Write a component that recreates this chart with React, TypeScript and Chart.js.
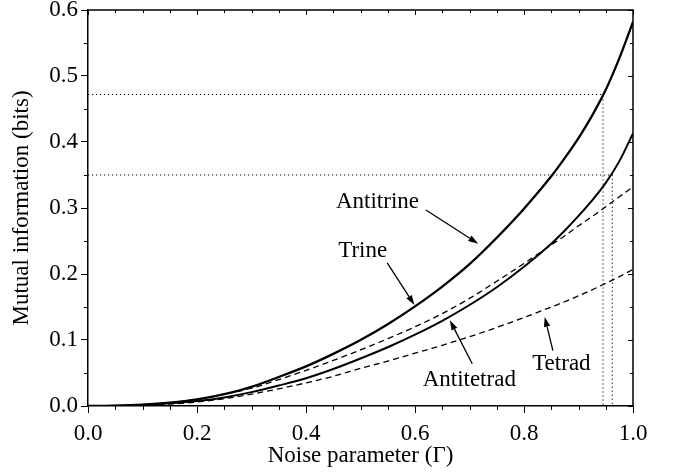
import { useEffect, useRef } from 'react';
import { Chart, registerables } from 'chart.js';

Chart.register(...registerables);

const FONT = "'Liberation Serif', 'Times New Roman', serif";
const FONT_SIZE = 23;

// Noise parameter values (x)
const gammaValues = [0, 0.05, 0.1, 0.15, 0.2, 0.25, 0.3, 0.35, 0.4, 0.45, 0.5, 0.55, 0.6, 0.65, 0.7, 0.75, 0.8, 0.85, 0.875, 0.9, 0.925, 0.95, 0.975, 1.0];
// Mutual information curves (y)
const trineValues = [0, 0.0005, 0.002, 0.005, 0.010, 0.018, 0.029, 0.044, 0.060, 0.079, 0.100, 0.124, 0.151, 0.181, 0.215, 0.255, 0.299, 0.348, 0.376, 0.406, 0.440, 0.479, 0.527, 0.582];
const antitetradValues = [0, 0.0003, 0.0015, 0.004, 0.0075, 0.013, 0.021, 0.031, 0.042, 0.056, 0.072, 0.089, 0.108, 0.129, 0.153, 0.180, 0.211, 0.246, 0.266, 0.288, 0.3115, 0.338, 0.371, 0.413];
const upperDashedValues = [0, 0.0003, 0.0017, 0.005, 0.010, 0.018, 0.027, 0.040, 0.054, 0.069, 0.085, 0.102, 0.120, 0.140, 0.163, 0.189, 0.216, 0.244, 0.258, 0.273, 0.287, 0.302, 0.317, 0.332];
const tetradValues = [0, 0.0002, 0.001, 0.003, 0.006, 0.011, 0.018, 0.026, 0.035, 0.045, 0.057, 0.068, 0.080, 0.092, 0.105, 0.119, 0.134, 0.150, 0.158, 0.167, 0.176, 0.186, 0.196, 0.207];

// Dotted reference lines
const refUpperGamma = [0, 0.945, 0.945];
const refUpperInfo = [0.472, 0.472, 0];
const refLowerGamma = [0, 0.962, 0.962];
const refLowerInfo = [0.35, 0.35, 0];

// Ticks
const xTickValues = [0, 0.2, 0.4, 0.6, 0.8, 1.0];
const yTickValues = [0, 0.1, 0.2, 0.3, 0.4, 0.5, 0.6];
const xMinorTicks = [0.05, 0.1, 0.15, 0.25, 0.3, 0.35, 0.45, 0.5, 0.55, 0.65, 0.7, 0.75, 0.85, 0.9, 0.95];
const yMinorTicks = [0.05, 0.15, 0.25, 0.35, 0.45, 0.55];

// Annotations (data coordinates)
const labelTexts = ['Antitrine', 'Trine', 'Antitetrad', 'Tetrad'];
const labelGamma = [0.455, 0.459, 0.614, 0.815];
const labelInfo = [0.300, 0.226, 0.031, 0.054];
const arrowFromGamma = [0.620, 0.549, 0.705, 0.853];
const arrowFromInfo = [0.297, 0.217, 0.064, 0.084];
const arrowToGamma = [0.716, 0.599, 0.664, 0.838];
const arrowToInfo = [0.246, 0.153, 0.130, 0.135];

const toPoints = (xs: number[], ys: number[]) => xs.map((x, i) => ({ x, y: ys[i] }));

const framePlugin = {
  id: 'frame',
  afterDraw(chart: any) {
    const { ctx, chartArea, scales } = chart;
    const { left, right, top, bottom } = chartArea;
    const x = scales.x;
    const y = scales.y;
    ctx.save();
    ctx.strokeStyle = '#000';
    ctx.lineWidth = 1.5;
    ctx.beginPath();
    ctx.moveTo(left, top);
    ctx.lineTo(right, top);
    ctx.lineTo(right, bottom);
    ctx.stroke();
    ctx.lineWidth = 1;
    ctx.beginPath();
    xMinorTicks.forEach((v) => {
      const px = Math.round(x.getPixelForValue(v)) + 0.5;
      ctx.moveTo(px, bottom);
      ctx.lineTo(px, bottom + 4);
      ctx.moveTo(px, top);
      ctx.lineTo(px, top + 3);
    });
    yMinorTicks.forEach((v) => {
      const py = Math.round(y.getPixelForValue(v)) + 0.5;
      ctx.moveTo(left, py);
      ctx.lineTo(left - 4, py);
      ctx.moveTo(right, py);
      ctx.lineTo(right - 3, py);
    });
    xTickValues.forEach((v) => {
      const px = Math.round(x.getPixelForValue(v)) + 0.5;
      ctx.moveTo(px, top);
      ctx.lineTo(px, top + 5);
    });
    yTickValues.forEach((v) => {
      const py = Math.round(y.getPixelForValue(v)) + 0.5;
      ctx.moveTo(right, py);
      ctx.lineTo(right - 5, py);
    });
    ctx.stroke();

    // arrows
    ctx.lineWidth = 1.3;
    ctx.fillStyle = '#000';
    for (let i = 0; i < arrowFromGamma.length; i++) {
      const x0 = x.getPixelForValue(arrowFromGamma[i]);
      const y0 = y.getPixelForValue(arrowFromInfo[i]);
      const x1 = x.getPixelForValue(arrowToGamma[i]);
      const y1 = y.getPixelForValue(arrowToInfo[i]);
      const ang = Math.atan2(y1 - y0, x1 - x0);
      const len = 10;
      const half = 3.2;
      const bx = x1 - len * Math.cos(ang);
      const by = y1 - len * Math.sin(ang);
      ctx.beginPath();
      ctx.moveTo(x0, y0);
      ctx.lineTo(bx, by);
      ctx.stroke();
      ctx.beginPath();
      ctx.moveTo(x1, y1);
      ctx.lineTo(bx + half * Math.sin(ang), by - half * Math.cos(ang));
      ctx.lineTo(bx - half * Math.sin(ang), by + half * Math.cos(ang));
      ctx.closePath();
      ctx.fill();
    }

    // labels
    ctx.font = `${FONT_SIZE}px ${FONT}`;
    ctx.textAlign = 'left';
    ctx.textBaseline = 'alphabetic';
    labelTexts.forEach((t, i) => {
      ctx.fillText(t, x.getPixelForValue(labelGamma[i]), y.getPixelForValue(labelInfo[i]));
    });
    ctx.restore();
  },
};

export default function App() {
  const ref = useRef<HTMLCanvasElement | null>(null);
  useEffect(() => {
    if (!ref.current) return;
    const curve = (data: number[], width: number, dash: number[]) => ({
      data: toPoints(gammaValues, data),
      borderColor: '#000',
      borderWidth: width,
      borderDash: dash,
      pointRadius: 0,
      fill: false,
      cubicInterpolationMode: 'monotone' as const,
    });
    const refLine = (xs: number[], ys: number[]) => ({
      data: toPoints(xs, ys),
      borderColor: '#000',
      borderWidth: 1,
      borderDash: [1.2, 2.8],
      pointRadius: 0,
      fill: false,
      tension: 0,
    });
    const chart = new Chart(ref.current, {
      type: 'line',
      data: {
        datasets: [
          refLine(refUpperGamma, refUpperInfo),
          refLine(refLowerGamma, refLowerInfo),
          curve(trineValues, 2.3, []),
          curve(antitetradValues, 2.0, []),
          curve(upperDashedValues, 1.3, [6, 4]),
          curve(tetradValues, 1.3, [6, 4]),
        ] as any,
      },
      options: {
        animation: false,
        responsive: false,
        devicePixelRatio: 1,
        layout: { padding: { top: 10, right: 56, left: 0, bottom: 0 } },
        plugins: { legend: { display: false }, tooltip: { enabled: false } },
        scales: {
          x: {
            type: 'linear',
            min: 0,
            max: 1,
            afterBuildTicks: (s: any) => {
              s.ticks = xTickValues.map((v) => ({ value: v }));
            },
            afterFit: (s: any) => {
              s.height = 66;
              s.paddingLeft = 0;
              s.paddingRight = 0;
            },
            border: { display: true, color: '#000', width: 1.5 },
            grid: { display: true, drawOnChartArea: false, drawTicks: true, tickLength: 7, color: '#000', lineWidth: 1 },
            ticks: {
              color: '#000',
              font: { family: FONT, size: FONT_SIZE },
              padding: 7,
              maxRotation: 0,
              callback: (v: any) => Number(v).toFixed(1),
            },
            title: {
              display: true,
              text: 'Noise parameter (Γ)',
              color: '#000',
              font: { family: FONT, size: FONT_SIZE },
              padding: { top: 0, bottom: 2 },
            },
          },
          y: {
            type: 'linear',
            min: 0,
            max: 0.6,
            afterBuildTicks: (s: any) => {
              s.ticks = yTickValues.map((v) => ({ value: v }));
            },
            afterFit: (s: any) => {
              s.width = 88;
              s.paddingTop = 0;
              s.paddingBottom = 0;
            },
            border: { display: true, color: '#000', width: 1.5 },
            grid: { display: true, drawOnChartArea: false, drawTicks: true, tickLength: 7, color: '#000', lineWidth: 1 },
            ticks: {
              color: '#000',
              font: { family: FONT, size: FONT_SIZE },
              padding: 3,
              callback: (v: any) => Number(v).toFixed(1),
            },
            title: {
              display: true,
              text: 'Mutual information (bits)',
              color: '#000',
              font: { family: FONT, size: FONT_SIZE },
              padding: { top: 8, bottom: 0 },
            },
          },
        },
      },
      plugins: [framePlugin],
    });
    return () => chart.destroy();
  }, []);
  return (
    <div style={{ position: 'fixed', left: 0, top: 0, width: 689, height: 472, background: '#fff' }}>
      <canvas ref={ref} width={689} height={472} style={{ display: 'block' }} />
    </div>
  );
}
